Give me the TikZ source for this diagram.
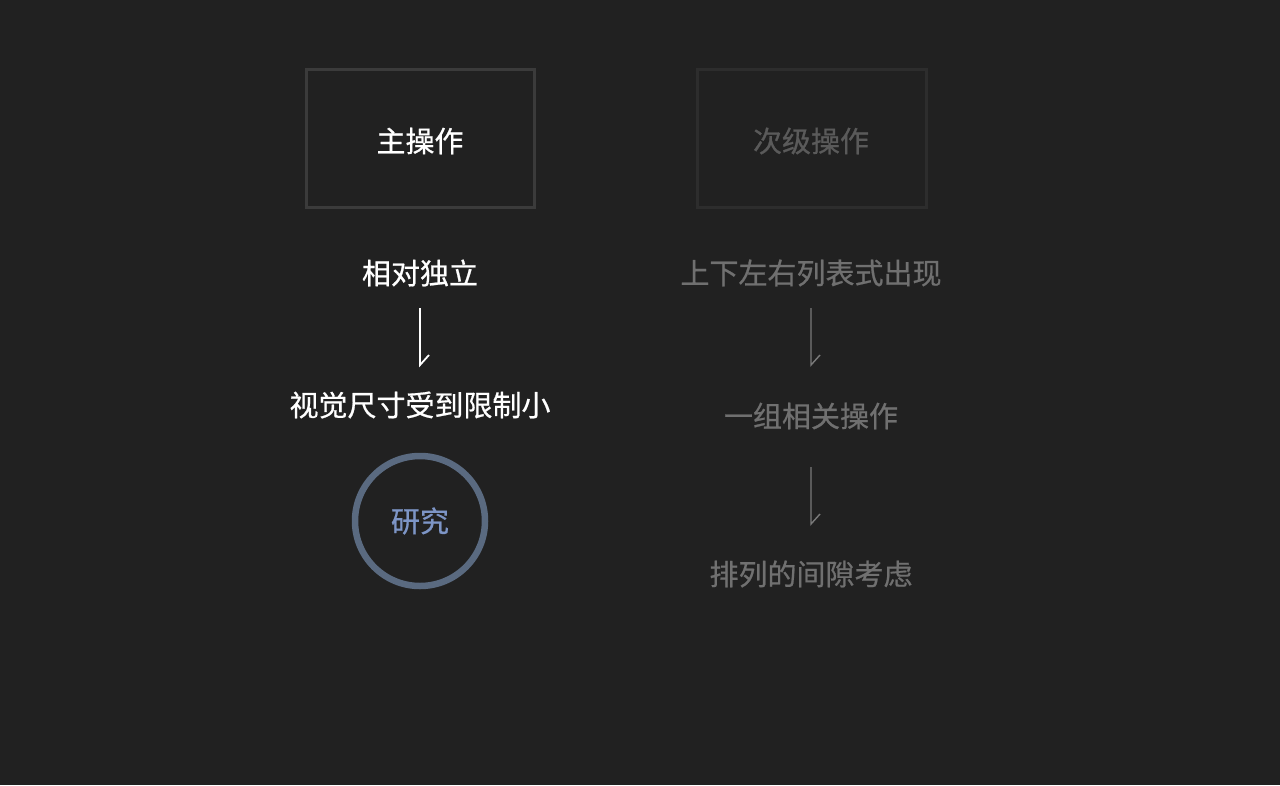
\documentclass[tikz,border=0pt]{standalone}
\usepackage{fontspec}
\setmainfont{Noto Sans CJK SC}[FakeBold=0.7]
\begin{document}
\begin{tikzpicture}[x=1pt,y=-1pt,
  lbl/.style={inner sep=0pt,font=\fontsize{29}{35}\selectfont},
  primary/.style={lbl,text=white},
  secondary/.style={lbl,text=gray7},
  boxA/.style={draw=boxone,line width=3pt,minimum width=228pt,minimum height=138pt,inner sep=0pt},
  boxB/.style={draw=boxtwo,line width=3pt,minimum width=229pt,minimum height=138pt,inner sep=0pt},
  arrowA/.style={draw=white,line width=1.8pt},
  arrowB/.style={draw=gray8,line width=1.4pt},
]
\definecolor{bg}{HTML}{212121}
\definecolor{boxone}{HTML}{3B3B3B}
\definecolor{boxtwo}{HTML}{2D2D2D}
\definecolor{gray7}{HTML}{707070}
\definecolor{gray6}{HTML}{5A5A5A}
\definecolor{gray8}{HTML}{7A7A7A}
\definecolor{ringc}{HTML}{5A6A80}
\definecolor{ringtext}{HTML}{7D95C6}
\fill[bg] (0,0) rectangle (1280,785);
\useasboundingbox (0,0) rectangle (1280,785);

% boxes
\node[boxA] (mainbox) at (420,138) {};
\node[primary] (main) at (420,141) {主操作};
\node[boxB] (secbox) at (811.5,138) {};
\node[lbl,text=gray6] (sec) at (811,141) {次级操作};

% left column
\node[primary] (l1) at (420,273) {相对独立};
\node[primary] (l2) at (420,405) {视觉尺寸受到限制小};
\draw[ringc,line width=6.5pt] (420,521) circle[radius=65];
\node[lbl,text=ringtext] (ring) at (420,521) {研究};

% right column
\node[secondary] (r1) at (811,273) {上下左右列表式出现};
\node[secondary] (r2) at (811,416) {一组相关操作};
\node[secondary] (r3) at (811,574) {排列的间隙考虑};

% arrows
\coordinate (a1s) at (420,308);
\coordinate (a1e) at (420,365);
\path[arrowA,line join=miter] (a1s) -- (a1e) -- ++(9,-10);

\coordinate (a2s) at (811,308);
\coordinate (a2e) at (811,365);
\path[arrowB] (a2s) -- (a2e) -- ++(9,-10);

\coordinate (a3s) at (811,467);
\coordinate (a3e) at (811,524);
\path[arrowB] (a3s) -- (a3e) -- ++(9,-10);
\end{tikzpicture}
\end{document}
